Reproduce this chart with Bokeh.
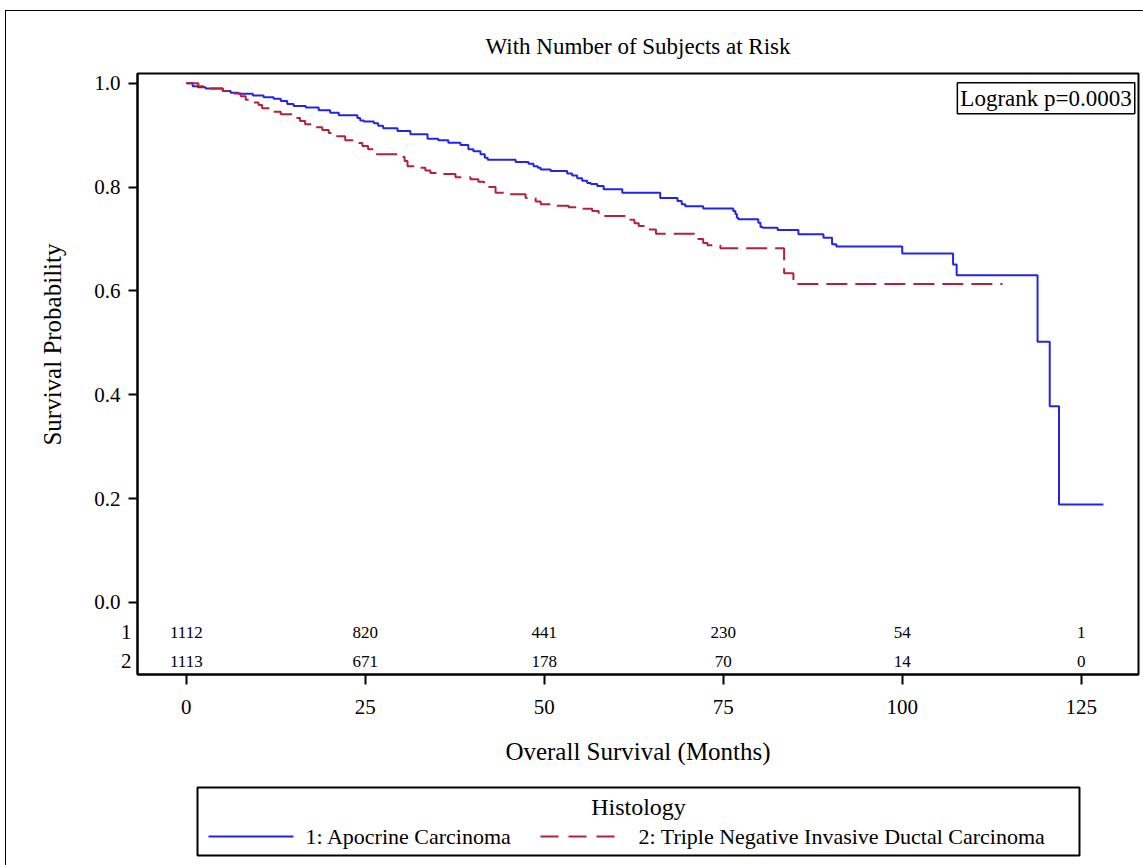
from bokeh.plotting import figure
from bokeh.models import Label, FixedTicker, PrintfTickFormatter, Range1d, Title
from bokeh.layouts import column
from bokeh.core.properties import value
from bokeh.embed import file_html
from bokeh.resources import INLINE

FONT = "Liberation Serif"

# ---- data ----
apocrine_time = [0, 0.9, 1.6, 2.7, 5.1, 6.2, 7.3, 9.3, 10.8, 12.2, 13.2, 14.1, 15.0, 16.7, 18.5, 20.1, 21.3,
                 23.9, 24.3, 24.8, 26.2, 26.8, 27.5, 29.5, 31.3, 33.7, 35.2, 36.6, 38.3, 39.4, 40.1, 41.1,
                 41.7, 42.1, 46.0, 47.8, 48.5, 49.1, 49.5, 50.9, 53.2, 53.9, 54.6, 55.3, 56.0, 56.5, 57.4,
                 58.3, 60.9, 66.2, 68.6, 69.2, 69.7, 72.2, 76.4, 76.7, 76.9, 77.1, 79.9, 80.2, 80.5, 82.6,
                 85.5, 89.0, 90.2, 90.8, 100.0, 107.1, 107.6, 118.9, 120.6, 121.9, 128.1]
apocrine_surv = [1.0, 0.994, 0.992, 0.990, 0.985, 0.9815, 0.9795, 0.9765, 0.973, 0.970, 0.9655, 0.960, 0.956,
                 0.953, 0.948, 0.943, 0.9385, 0.933, 0.928, 0.926, 0.923, 0.918, 0.913, 0.908, 0.9015, 0.893,
                 0.890, 0.8855, 0.881, 0.873, 0.869, 0.863, 0.8565, 0.8525, 0.848, 0.845, 0.840, 0.837, 0.834,
                 0.831, 0.826, 0.822, 0.817, 0.812, 0.808, 0.806, 0.802, 0.7955, 0.789, 0.779, 0.773, 0.767,
                 0.763, 0.7585, 0.754, 0.748, 0.741, 0.7378, 0.731, 0.723, 0.7215, 0.717, 0.709, 0.7025, 0.690,
                 0.6853, 0.672, 0.651, 0.630, 0.502, 0.3775, 0.1885, 0.1885]

tnbc_time = [0, 1.7, 2.4, 3.4, 5.1, 6.0, 7.6, 8.3, 9.2, 10.1, 10.6, 11.8, 13.2, 15.2, 15.9, 16.6, 18.0, 19.0,
             19.9, 20.8, 22.2, 23.6, 24.6, 25.4, 26.2, 29.9, 30.5, 30.9, 32.3, 33.4, 34.1, 35.5, 37.6, 39.7,
             40.8, 41.6, 43.2, 44.6, 47.4, 48.8, 49.5, 50.9, 53.4, 54.8, 56.7, 57.6, 62.0, 62.6, 63.2, 64.6,
             65.6, 71.4, 72.2, 72.8, 74.6, 83.5, 84.8, 114.0]
tnbc_surv = [1.0, 0.994, 0.992, 0.990, 0.985, 0.980, 0.975, 0.968, 0.963, 0.958, 0.952, 0.945, 0.940, 0.933,
             0.927, 0.921, 0.915, 0.910, 0.904, 0.898, 0.890, 0.885, 0.879, 0.873, 0.863, 0.858, 0.850, 0.840,
             0.837, 0.832, 0.827, 0.825, 0.819, 0.815, 0.810, 0.800, 0.789, 0.786, 0.779, 0.772, 0.767, 0.764,
             0.761, 0.758, 0.754, 0.744, 0.737, 0.730, 0.725, 0.718, 0.710, 0.700, 0.692, 0.688, 0.682, 0.634,
             0.613, 0.613]

risk_times = [0, 25, 50, 75, 100, 125]
risk_apocrine = [1112, 820, 441, 230, 54, 1]
risk_tnbc = [1113, 671, 178, 70, 14, 0]

x_ticks = [0, 25, 50, 75, 100, 125]
y_ticks = [0.0, 0.2, 0.4, 0.6, 0.8, 1.0]

title_text = "With Number of Subjects at Risk"
x_label = "Overall Survival (Months)"
y_label = "Survival Probability"
pvalue_text = "Logrank p=0.0003"
legend_title = "Histology"
series_names = ["1: Apocrine Carcinoma", "2: Triple Negative Invasive Ductal Carcinoma"]
row_names = ["1", "2"]

BLUE = "#2424e6"
RED = "#b5213a"

ROW_Y = [-0.0577, -0.1135]

# ---- main figure ----
p = figure(width=1137, height=769, output_backend="svg", toolbar_location=None,
           x_range=Range1d(-6.81, 133.0), y_range=Range1d(-0.139, 1.0187),
           min_border_left=131, min_border_right=5, min_border_top=62, min_border_bottom=106)
p.background_fill_color = "white"
p.border_fill_color = "white"
p.outline_line_color = "black"
p.outline_line_width = 2
p.xgrid.visible = False
p.ygrid.visible = False

p.title.text = title_text
p.title.align = "center"
p.title.text_font = FONT
p.title.text_font_size = "23px"
p.title.text_font_style = "normal"
p.title.text_color = "black"
p.title.standoff = 30

for ax in (p.xaxis[0], p.yaxis[0]):
    ax.axis_line_width = 2
    ax.axis_line_color = "black"
    ax.major_tick_line_width = 2
    ax.major_tick_line_color = "black"
    ax.major_tick_in = 0
    ax.minor_tick_line_color = None
    ax.major_label_text_font = FONT
    ax.major_label_text_font_size = "21px"
    ax.major_label_text_color = "black"
    ax.axis_label_text_font = FONT
    ax.axis_label_text_font_style = "normal"
    ax.axis_label_text_font_size = "25px"
    ax.axis_label_text_color = "black"

p.xaxis[0].ticker = FixedTicker(ticks=x_ticks)
p.xaxis[0].major_tick_out = 10
p.xaxis[0].major_label_standoff = 15
p.xaxis[0].axis_label = x_label
p.xaxis[0].axis_label_standoff = 21

p.yaxis[0].ticker = FixedTicker(ticks=y_ticks)
p.yaxis[0].formatter = PrintfTickFormatter(format="%.1f")
p.yaxis[0].major_tick_out = 9
p.yaxis[0].major_label_standoff = 8

# row labels of the at-risk table (in the left border panel, so they are not clipped)
for name, yy in zip(row_names, ROW_Y):
    p.add_layout(Label(x=-7.65, y=yy, text=name, text_font=FONT, text_font_size="21px",
                       text_align="right", text_baseline="middle", text_color="black"), "left")

# y-axis title, centred on the 0..1 probability span (not on the whole frame)
p.add_layout(Title(text=y_label, align="right", offset=170, standoff=8, text_font=FONT,
                   text_font_size="25px", text_font_style="normal", text_color="black"), "left")

# survival curves
p.step(apocrine_time, apocrine_surv, mode="after", line_color=BLUE, line_width=2)
p.step(tnbc_time, tnbc_surv, mode="after", line_color=RED, line_width=2, line_dash="21 8")

# numbers at risk
p.text(x=risk_times, y=[ROW_Y[0]] * len(risk_times), text=[str(v) for v in risk_apocrine],
       text_font=value(FONT), text_font_size="17px", text_align="center", text_baseline="middle",
       text_color="black")
p.text(x=risk_times, y=[ROW_Y[1]] * len(risk_times), text=[str(v) for v in risk_tnbc],
       text_font=value(FONT), text_font_size="17px", text_align="center", text_baseline="middle",
       text_color="black")

# logrank box
p.add_layout(Label(x=107.7, y=0.971, text=pvalue_text, text_font=FONT, text_font_size="23px",
                   text_align="left", text_baseline="alphabetic", text_color="black",
                   border_line_color="black", border_line_width=1.5,
                   background_fill_color="white", padding=3))

# ---- legend strip (pixel coordinates; frame aligned with main frame horizontally) ----
q = figure(width=1137, height=85, output_backend="svg", toolbar_location=None,
           x_range=Range1d(137, 1138), y_range=Range1d(85, 0),
           min_border=0, min_border_left=131, min_border_right=5, min_border_top=0, min_border_bottom=0)
q.axis.visible = False
q.xgrid.visible = False
q.ygrid.visible = False
q.outline_line_color = None
q.background_fill_color = "white"
q.border_fill_color = "white"

q.quad(left=[197], right=[1079], top=[7], bottom=[75], fill_color=None, line_color="black", line_width=2)
q.text(x=[638], y=[26], text=[legend_title], text_font=value(FONT), text_font_size="24px",
       text_align="center", text_baseline="middle", text_color="black")
q.segment(x0=[208], y0=[56], x1=[293], y1=[56], line_color=BLUE, line_width=2)
q.segment(x0=[540], y0=[56], x1=[618], y1=[56], line_color=RED, line_width=2, line_dash="18 10")
q.text(x=[305, 638], y=[56, 56], text=series_names, text_font=value(FONT), text_font_size="22px",
       text_align="left", text_baseline="middle", text_color="black")

layout = column(p, q, spacing=0, margin=(10, 0, 0, 5),
                styles={"border-left": "1px solid black", "border-top": "1px solid black"})
open("out.html", "w").write(file_html(layout, INLINE))
